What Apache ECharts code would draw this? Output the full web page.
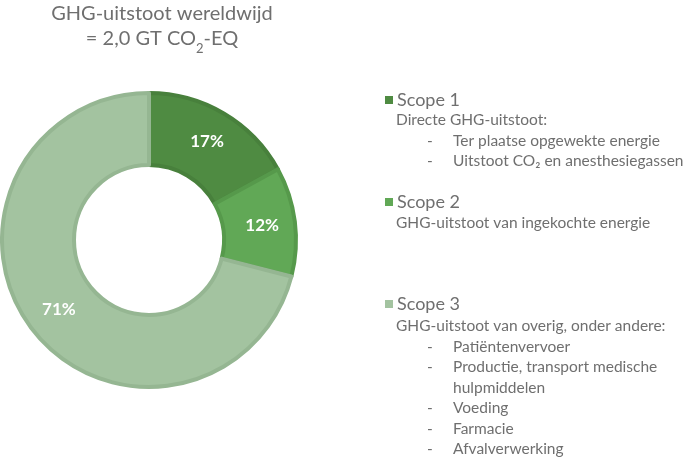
<!DOCTYPE html>
<html>
<head>
<meta charset="utf-8">
<script src="https://cdn.jsdelivr.net/npm/echarts@6/dist/echarts.min.js"></script>
<style>html,body{margin:0;padding:0;background:#fff}#c{width:685px;height:460px}</style>
</head>
<body>
<div id="c"></div>
<script>
const categories = ['Scope 1', 'Scope 2', 'Scope 3'];
const values = [17, 12, 71];
const titleLine1 = 'GHG-uitstoot wereldwijd';
const titleLine2 = '= 2,0 GT CO{sub|2}-EQ';
const scopeIntro = [
  'Directe GHG-uitstoot:',
  'GHG-uitstoot van ingekochte energie',
  'GHG-uitstoot van overig, onder andere:'
];
const scopeItems = [
  ['Ter plaatse opgewekte energie', 'Uitstoot CO\u2082 en anesthesiegassen'],
  [],
  ['Patiëntenvervoer', 'Productie, transport medische\nhulpmiddelen', 'Voeding', 'Farmacie', 'Afvalverwerking']
];

const fills = ['#4f8b42', '#61a856', '#a3c3a0'];
const borders = ['#48803c', '#56994b', '#95b692'];
const FONT = 'Lato';
const TXT = '#6f6f6f';
const BODY = 15.5;

const chart = echarts.init(document.getElementById('c'), null, {renderer: 'canvas'});

const blockTop = [100, 203, 306];
const lineH = 20.5;
const graphics = [];
categories.forEach((c, i) => {
  let y = blockTop[i] + 20;
  graphics.push({type: 'text', style: {text: scopeIntro[i], x: 396, y: y, fill: TXT, fontFamily: FONT, fontSize: BODY, verticalAlign: 'middle'}});
  scopeItems[i].forEach(item => {
    const parts = item.split('\n');
    y += lineH;
    graphics.push({type: 'text', style: {text: '-', x: 427, y: y, fill: TXT, fontFamily: FONT, fontSize: BODY, verticalAlign: 'middle'}});
    parts.forEach((p, k) => {
      if (k > 0) y += lineH;
      graphics.push({type: 'text', style: {text: p, x: 453, y: y, fill: TXT, fontFamily: FONT, fontSize: BODY, verticalAlign: 'middle'}});
    });
  });
});

chart.setOption({
  animation: false,
  title: {
    text: titleLine1 + '\n' + titleLine2,
    left: 162, top: 1, padding: 0, textAlign: 'center',
    textStyle: {
      color: TXT, fontFamily: FONT, fontSize: 20, fontWeight: 'normal', lineHeight: 25,
      rich: {sub: {fontSize: 13, fontFamily: FONT, color: TXT, lineHeight: 13, verticalAlign: 'bottom', padding: [0, 0, -4, 0]}}
    }
  },
  legend: {
    orient: 'vertical', left: 385, top: 91, padding: 0,
    itemWidth: 8, itemHeight: 8, itemGap: 84,
    icon: 'rect',
    itemStyle: {borderWidth: 0},
    textStyle: {color: TXT, fontFamily: FONT, fontSize: 18, padding: [0, 0, 0, -1]},
    data: categories
  },
  graphic: graphics,
  series: [{
    type: 'pie',
    center: [149, 240],
    radius: [75, 147],
    startAngle: 90,
    clockwise: true,
    label: {
      show: true, position: 'inside', color: '#ffffff', fontFamily: FONT, fontWeight: 'bold', fontSize: 17,
      formatter: p => p.value + '%'
    },
    labelLine: {show: false},
    emphasis: {disabled: true},
    data: categories.map((c, i) => ({
      name: c, value: values[i],
      itemStyle: {color: fills[i], borderColor: borders[i], borderWidth: 4}
    }))
  }]
});
</script>
</body>
</html>
